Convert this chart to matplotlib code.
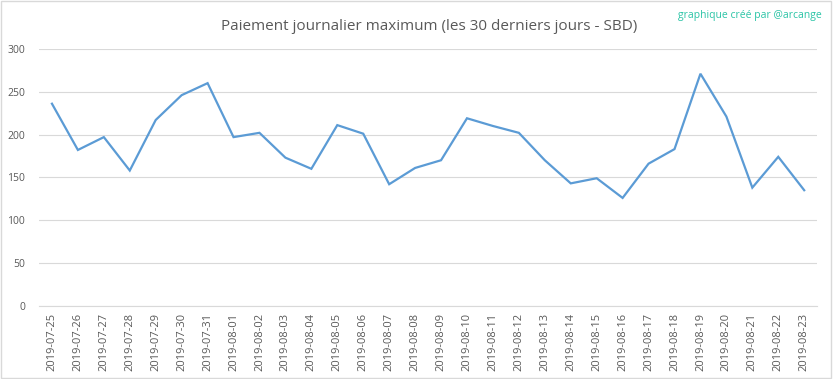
import matplotlib.pyplot as plt
from matplotlib.patches import Rectangle

dates = ['2019-07-25', '2019-07-26', '2019-07-27', '2019-07-28', '2019-07-29',
         '2019-07-30', '2019-07-31', '2019-08-01', '2019-08-02', '2019-08-03',
         '2019-08-04', '2019-08-05', '2019-08-06', '2019-08-07', '2019-08-08',
         '2019-08-09', '2019-08-10', '2019-08-11', '2019-08-12', '2019-08-13',
         '2019-08-14', '2019-08-15', '2019-08-16', '2019-08-17', '2019-08-18',
         '2019-08-19', '2019-08-20', '2019-08-21', '2019-08-22', '2019-08-23']
max_payout = [236, 182, 197, 158, 217, 246, 260, 197, 202, 173,
              160, 211, 201, 142, 161, 170, 219, 210, 202, 170,
              143, 149, 126, 166, 183, 271, 221, 138, 174, 135]
y_ticks = [0, 50, 100, 150, 200, 250, 300]

plt.rcParams['font.family'] = ['Open Sans', 'DejaVu Sans']

fig = plt.figure(figsize=(8.33, 3.79), dpi=100)
ax = fig.add_axes([0.0468, 0.193, 0.9342, 0.678])

x = list(range(len(dates)))
ax.plot(x, max_payout, color='#5b9bd5', linewidth=1.6, solid_joinstyle='miter')

ax.set_xlim(-0.5, len(dates) - 0.5)
ax.set_ylim(0, 300)
ax.set_yticks(y_ticks)
ax.set_xticks(x)
ax.set_xticklabels(dates, rotation=90)
ax.tick_params(axis='both', length=0, colors='#595959')
ax.tick_params(axis='y', pad=10, labelsize=7.5)
ax.tick_params(axis='x', pad=5, labelsize=8)
ax.grid(axis='y', color='#d9d9d9', linewidth=0.8)
ax.set_axisbelow(True)
for side in ['top', 'right', 'left']:
    ax.spines[side].set_visible(False)
ax.spines['bottom'].set_color('#d9d9d9')
ax.spines['bottom'].set_linewidth(0.8)

fig.text(0.515, 0.93, 'Paiement journalier maximum (les 30 derniers jours - SBD)',
         ha='center', va='center', fontsize=11, color='#595959')
fig.text(0.987, 0.96, 'graphique créé par @arcange', ha='right', va='center',
         fontsize=7.5, color='#2bc4a6')

fig.patches.append(Rectangle((0.001, 0.002), 0.997, 0.995, transform=fig.transFigure,
                             fill=False, edgecolor='#d9d9d9', linewidth=1))

fig.savefig('out.png', dpi=100)
